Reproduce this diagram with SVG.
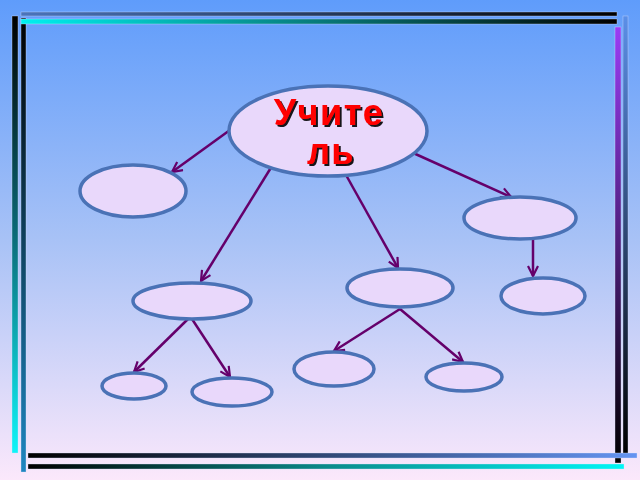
<svg xmlns="http://www.w3.org/2000/svg" width="640" height="480" viewBox="0 0 640 480">
<defs>
<linearGradient id="bg" x1="0" y1="0" x2="0" y2="1">
<stop offset="0" stop-color="#5f9cfb"/>
<stop offset="0.5" stop-color="#a8c2f6"/>
<stop offset="1" stop-color="#fbe8fb"/>
</linearGradient>
<linearGradient id="gLO" x1="0" y1="0" x2="0" y2="1"><stop offset="0" stop-color="#000"/><stop offset="0.5" stop-color="#0a6a78"/><stop offset="1" stop-color="#10f4f8"/></linearGradient>
<linearGradient id="gLI" x1="0" y1="0" x2="0" y2="1"><stop offset="0" stop-color="#000"/><stop offset="1" stop-color="#1e86c0"/></linearGradient>
<linearGradient id="gTO" x1="0" y1="0" x2="1" y2="0"><stop offset="0" stop-color="#4a74bc"/><stop offset="1" stop-color="#000"/></linearGradient>
<linearGradient id="gTI" x1="0" y1="0" x2="1" y2="0"><stop offset="0" stop-color="#00f0f0"/><stop offset="0.5" stop-color="#087a7a"/><stop offset="1" stop-color="#000"/></linearGradient>
<linearGradient id="gRI" x1="0" y1="0" x2="0" y2="1"><stop offset="0" stop-color="#9a3cf4"/><stop offset="1" stop-color="#000"/></linearGradient>
<linearGradient id="gRO" x1="0" y1="0" x2="0" y2="1"><stop offset="0" stop-color="#5b8fe8"/><stop offset="1" stop-color="#000"/></linearGradient>
<linearGradient id="gBU" x1="0" y1="0" x2="1" y2="0"><stop offset="0" stop-color="#000"/><stop offset="1" stop-color="#6494f2"/></linearGradient>
<linearGradient id="gBL" x1="0" y1="0" x2="1" y2="0"><stop offset="0" stop-color="#000"/><stop offset="0.5" stop-color="#0a8a8a"/><stop offset="1" stop-color="#00f6f6"/></linearGradient>
<marker id="arr" viewBox="0 0 12 12" refX="11" refY="6" markerWidth="12" markerHeight="12" markerUnits="userSpaceOnUse" orient="auto">
<path d="M1,1 L11,6 L1,11" fill="none" stroke="#65006b" stroke-width="2.2"/>
</marker>
<filter id="sh" x="-10%" y="-10%" width="130%" height="130%">
<feDropShadow dx="2" dy="2" stdDeviation="0.4" flood-color="#000" flood-opacity="0.9"/>
</filter>
</defs>
<style>
.node{fill:#e9d8fb;stroke:#4a72b6;stroke-width:3.5}
.conn line{stroke:#65006b;stroke-width:2.5;marker-end:url(#arr)}
.bar{stroke:#dfe8ff;stroke-width:0.6;stroke-opacity:0.6}
.t{font-family:"Liberation Sans",Arial,sans-serif;font-weight:bold;font-size:36px;fill:#ff0000;text-anchor:middle;letter-spacing:1.5px}
</style>
<rect width="640" height="480" fill="url(#bg)"/>
<g id="frame">
<rect class="bar" x="12" y="16" width="6" height="437" fill="url(#gLO)"/>
<rect class="bar" x="21" y="18" width="5" height="454" fill="url(#gLI)"/>
<rect class="bar" x="21" y="12" width="596" height="4" fill="url(#gTO)"/>
<rect class="bar" x="21" y="19" width="596" height="5" fill="url(#gTI)"/>
<rect class="bar" x="615" y="27" width="6" height="436" fill="url(#gRI)"/>
<rect class="bar" x="623" y="16" width="5" height="438" fill="url(#gRO)"/>
<rect class="bar" x="28" y="453" width="609" height="5" fill="url(#gBU)"/>
<rect class="bar" x="28" y="464" width="596" height="5" fill="url(#gBL)"/>
</g>
<g class="conn" id="connectors">
<line x1="230" y1="130" x2="172" y2="172"/>
<line x1="272" y1="166" x2="201" y2="281"/>
<line x1="346" y1="175" x2="398" y2="268"/>
<line x1="411" y1="152" x2="511" y2="197"/>
<line x1="533" y1="239" x2="533" y2="276"/>
<line x1="400" y1="309" x2="334" y2="351"/>
<line x1="400" y1="309" x2="463" y2="362"/>
<line x1="188" y1="319" x2="134" y2="372"/>
<line x1="192" y1="319" x2="230" y2="377"/>
</g>
<g id="n0">
<ellipse class="node" cx="328" cy="131" rx="99" ry="45"/>
<g filter="url(#sh)">
<text class="t" x="329" y="125">Учите</text>
<text class="t" x="331" y="164">ль</text>
</g>
</g>
<g id="n1"><ellipse class="node" cx="133" cy="191" rx="53" ry="26"/></g>
<g id="n2"><ellipse class="node" cx="520" cy="218" rx="56" ry="21"/></g>
<g id="n3"><ellipse class="node" cx="400" cy="288" rx="53" ry="19"/></g>
<g id="n4"><ellipse class="node" cx="543" cy="296" rx="42" ry="18"/></g>
<g id="n5"><ellipse class="node" cx="192" cy="301" rx="59" ry="18"/></g>
<g id="n6"><ellipse class="node" cx="134" cy="386" rx="32" ry="13"/></g>
<g id="n7"><ellipse class="node" cx="232" cy="392" rx="40" ry="14"/></g>
<g id="n8"><ellipse class="node" cx="334" cy="369" rx="40" ry="17"/></g>
<g id="n9"><ellipse class="node" cx="464" cy="377" rx="38" ry="14"/></g>
</svg>
